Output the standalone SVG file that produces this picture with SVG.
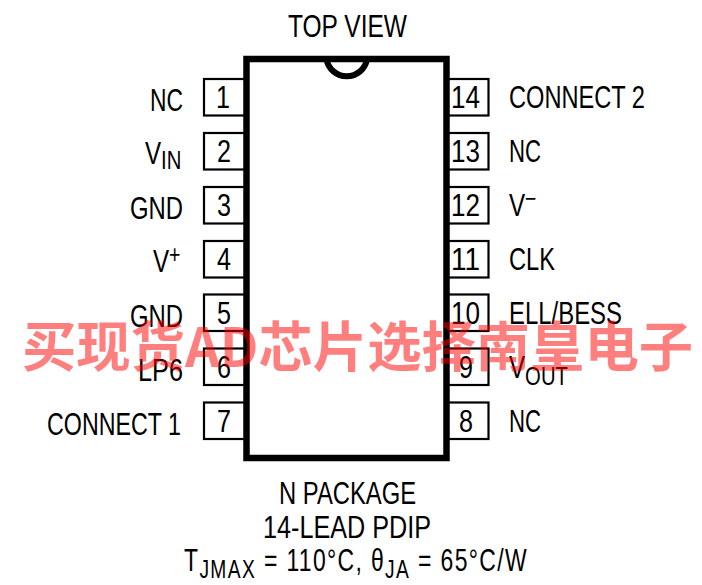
<svg xmlns="http://www.w3.org/2000/svg" width="702" height="585" viewBox="0 0 702 585">
<style>
text{font-family:"Liberation Sans",Arial,sans-serif;font-size:31px;fill:#000}
.sub{font-size:26px}
.sup{font-size:25px}
.pin{fill:#fff;stroke:#000;stroke-width:2.2}
.body{fill:#fff;stroke:#000;stroke-width:6.5}
.wm{font-family:"Noto Sans CJK SC","Liberation Sans",sans-serif;font-weight:700;font-size:54px;fill:#ff0000;fill-opacity:.5}
</style>
<rect width="702" height="585" fill="#fff"/>
<text id="top-view" x="288" y="37" textLength="119" lengthAdjust="spacingAndGlyphs">TOP VIEW</text>
<g id="pins-left">
<g id="pin1"><rect class="pin" x="204" y="79" width="42" height="36.5"/><text x="216" y="108" textLength="14" lengthAdjust="spacingAndGlyphs">1</text><text x="150" y="110.500" textLength="33" lengthAdjust="spacingAndGlyphs">NC</text></g>
<g id="pin2"><rect class="pin" x="204" y="133" width="42" height="36.5"/><text x="217" y="162" textLength="14" lengthAdjust="spacingAndGlyphs">2</text><text transform="translate(145 164) scale(.78 1)">V<tspan class="sub" dy="5">IN</tspan></text></g>
<g id="pin3"><rect class="pin" x="204" y="187" width="42" height="36.5"/><text x="217" y="216" textLength="14" lengthAdjust="spacingAndGlyphs">3</text><text x="130" y="218.500" textLength="53" lengthAdjust="spacingAndGlyphs">GND</text></g>
<g id="pin4"><rect class="pin" x="204" y="241" width="42" height="36.5"/><text x="217" y="270" textLength="14" lengthAdjust="spacingAndGlyphs">4</text><text transform="translate(153 272) scale(.78 1)">V<tspan class="sup" dy="-9">+</tspan></text></g>
<g id="pin5"><rect class="pin" x="204" y="294.500" width="42" height="36.500"/><text x="217" y="324" textLength="14" lengthAdjust="spacingAndGlyphs">5</text><text x="130" y="327" textLength="53" lengthAdjust="spacingAndGlyphs">GND</text></g>
<g id="pin6"><rect class="pin" x="204" y="348.500" width="42" height="36.500"/><text x="217" y="378" textLength="14" lengthAdjust="spacingAndGlyphs">6</text><text x="138" y="381" textLength="45" lengthAdjust="spacingAndGlyphs">LP6</text></g>
<g id="pin7"><rect class="pin" x="204" y="402.500" width="42" height="36.500"/><text x="217" y="432" textLength="14" lengthAdjust="spacingAndGlyphs">7</text><text x="47" y="434.500" textLength="134" lengthAdjust="spacingAndGlyphs">CONNECT 1</text></g>
</g>
<g id="pins-right">
<g id="pin14"><rect class="pin" x="447" y="79" width="41.500" height="36.500"/><text x="451" y="108" textLength="29" lengthAdjust="spacingAndGlyphs">14</text><text x="509" y="108" textLength="136" lengthAdjust="spacingAndGlyphs">CONNECT 2</text></g>
<g id="pin13"><rect class="pin" x="447" y="133" width="41.500" height="36.500"/><text x="451" y="162" textLength="29" lengthAdjust="spacingAndGlyphs">13</text><text x="509" y="162" textLength="32" lengthAdjust="spacingAndGlyphs">NC</text></g>
<g id="pin12"><rect class="pin" x="447" y="187" width="41.500" height="36.500"/><text x="451" y="216" textLength="29" lengthAdjust="spacingAndGlyphs">12</text><text transform="translate(509 216) scale(.78 1)">V<tspan class="sup" dy="-9">−</tspan></text></g>
<g id="pin11"><rect class="pin" x="447" y="241" width="41.500" height="36.500"/><text x="451" y="270" textLength="29" lengthAdjust="spacingAndGlyphs">11</text><text x="509" y="270" textLength="46" lengthAdjust="spacingAndGlyphs">CLK</text></g>
<g id="pin10"><rect class="pin" x="447" y="294.500" width="41.500" height="36.500"/><text x="451" y="324" textLength="29" lengthAdjust="spacingAndGlyphs">10</text><text x="509" y="324" textLength="113" lengthAdjust="spacingAndGlyphs">ELL/BESS</text></g>
<g id="pin9"><rect class="pin" x="447" y="348.500" width="41.500" height="36.500"/><text x="459" y="378" textLength="14" lengthAdjust="spacingAndGlyphs">9</text><text transform="translate(509 378) scale(.78 1)">V<tspan class="sub" dy="7">OUT</tspan></text></g>
<g id="pin8"><rect class="pin" x="447" y="402.500" width="41.500" height="36.500"/><text x="459" y="432" textLength="14" lengthAdjust="spacingAndGlyphs">8</text><text x="509" y="432" textLength="32" lengthAdjust="spacingAndGlyphs">NC</text></g>
</g>
<g id="chip">
<rect class="body" x="246.500" y="59" width="200" height="399"/>
<path d="M326.500 59A20.500 20.500 0 0 0 367 59" fill="none" stroke="#000" stroke-width="6"/>
</g>
<g id="caption">
<text x="279" y="504" textLength="137" lengthAdjust="spacingAndGlyphs">N PACKAGE</text>
<text x="263" y="538" textLength="168" lengthAdjust="spacingAndGlyphs">14-LEAD PDIP</text>
<text transform="translate(184 571) scale(.74 1)" letter-spacing="1.85">T<tspan class="sub" dy="7">JMAX</tspan><tspan dy="-7"> = 110°C, θ</tspan><tspan class="sub" dy="7">JA</tspan><tspan dy="-7"> = 65°C/W</tspan></text>
</g>
<text class="wm" x="22" y="367" textLength="671" lengthAdjust="spacingAndGlyphs">买现货AD芯片选择南皇电子</text>
</svg>
